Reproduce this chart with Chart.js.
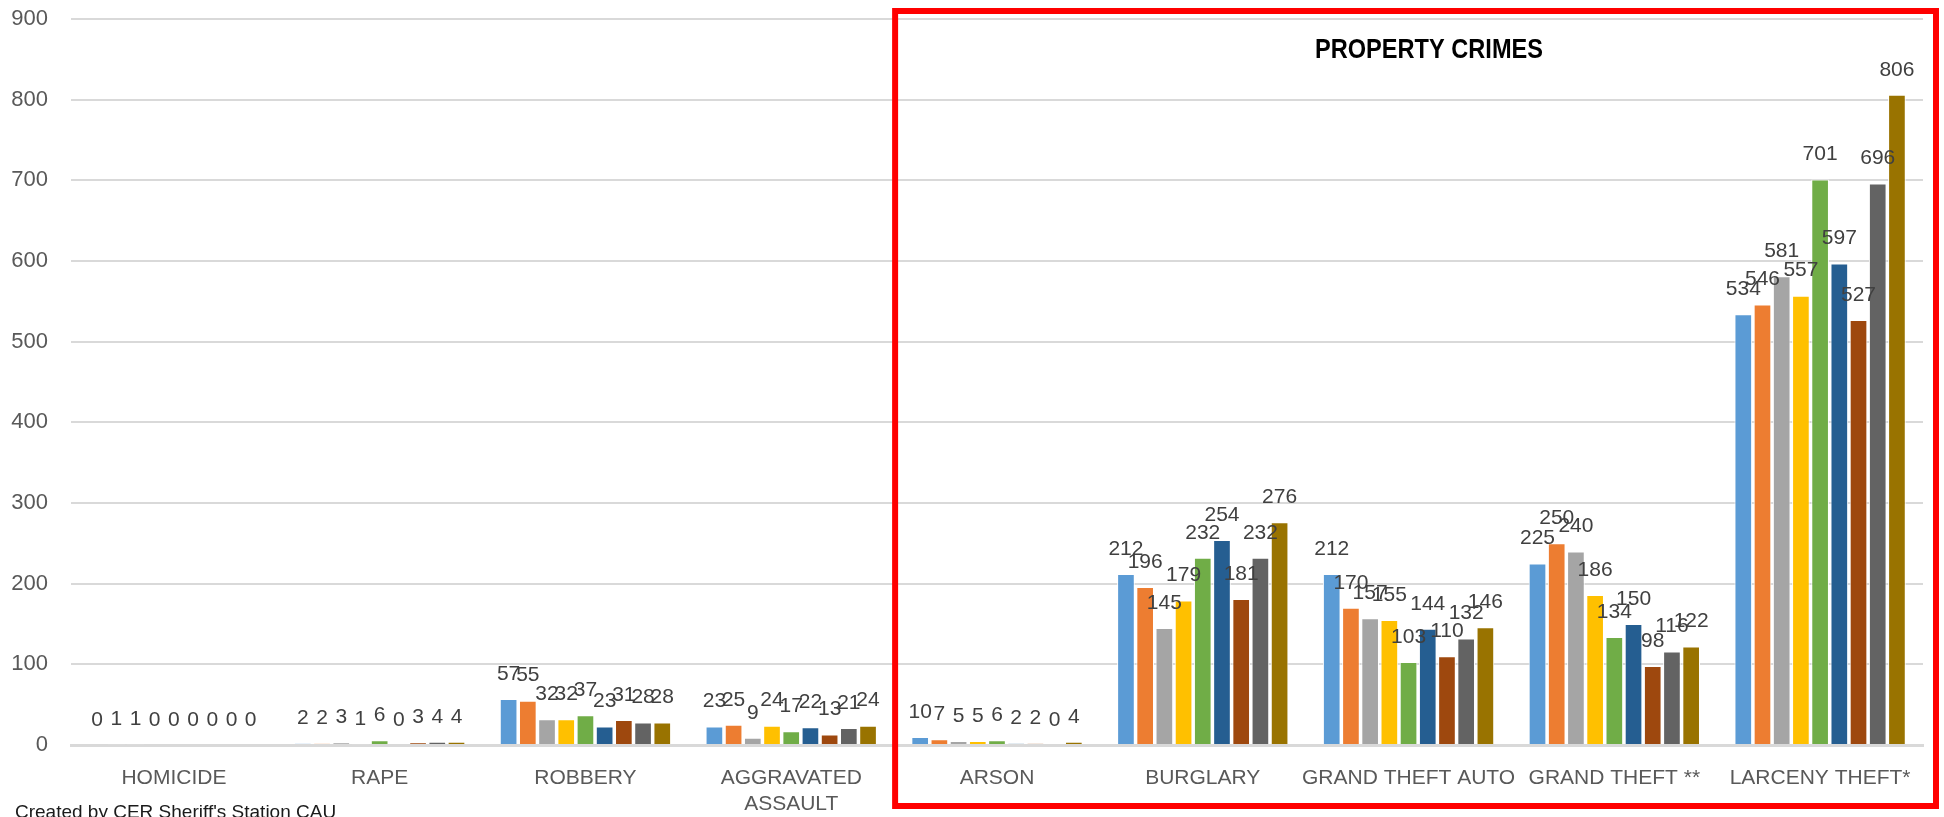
<!DOCTYPE html>
<html>
<head>
<meta charset="utf-8">
<script src="https://cdn.jsdelivr.net/npm/chart.js@4/dist/chart.umd.min.js"></script>
<style>
  body { margin: 0; background: #fff; }
  canvas { display: block; }
</style>
</head>
<body>
<canvas id="crimeChart" width="1944" height="817"></canvas>
<script>
// categories along the x axis
var categories = ['HOMICIDE', 'RAPE', 'ROBBERY', ['AGGRAVATED', 'ASSAULT'], 'ARSON',
  'BURGLARY', 'GRAND THEFT AUTO', 'GRAND THEFT **', 'LARCENY THEFT*']

// nine bars per category (left to right)
var homicide   = [0, 1, 1, 0, 0, 0, 0, 0, 0]
var rape       = [2, 2, 3, 1, 6, 0, 3, 4, 4]
var robbery    = [57, 55, 32, 32, 37, 23, 31, 28, 28]
var aggAssault = [23, 25, 9, 24, 17, 22, 13, 21, 24]
var arson      = [10, 7, 5, 5, 6, 2, 2, 0, 4]
var burglary   = [212, 196, 145, 179, 232, 254, 181, 232, 276]
var gta        = [212, 170, 157, 155, 103, 144, 110, 132, 146]
var grandTheft = [225, 250, 240, 186, 134, 150, 98, 116, 122]
var larceny    = [534, 546, 581, 557, 701, 597, 527, 696, 806]

var yTicks = [0, 100, 200, 300, 400, 500, 600, 700, 800, 900]

var seriesColors = ['#5B9BD5', '#ED7D31', '#A5A5A5', '#FFC000', '#70AD47',
  '#255E91', '#9E480E', '#636363', '#997300']

var rows = [homicide, rape, robbery, aggAssault, arson, burglary, gta, grandTheft, larceny]

var datasets = []
for (var i = 0; i < seriesColors.length; i++) {
  datasets.push({
    label: 'Series ' + (i + 1),
    data: rows.map(function (r) { return r[i] }),
    backgroundColor: seriesColors[i],
    borderColor: '#ffffff',
    borderWidth: 1,
    borderSkipped: 'start',
    categoryPercentage: 0.84,
    barPercentage: 0.92
  })
}

var FONT = '"Liberation Sans", Arial, sans-serif'

// value labels above every bar
var valueLabels = {
  id: 'valueLabels',
  afterDatasetsDraw: function (chart) {
    var ctx = chart.ctx
    ctx.save()
    ctx.font = '21px ' + FONT
    ctx.fillStyle = '#404040'
    ctx.textAlign = 'center'
    ctx.textBaseline = 'middle'
    chart.data.datasets.forEach(function (ds, di) {
      chart.getDatasetMeta(di).data.forEach(function (bar, j) {
        ctx.fillText(String(ds.data[j]), bar.x, bar.y - 25)
      })
    })
    ctx.restore()
  }
}

// red box round the property crimes, its heading and the footer note
var extras = {
  id: 'extras',
  afterDraw: function (chart) {
    var ctx = chart.ctx
    var xs = chart.scales.x
    var area = chart.chartArea
    var left = xs.getPixelForValue(3.5) - 2
    ctx.save()
    ctx.strokeStyle = '#ff0000'
    ctx.lineWidth = 6
    ctx.strokeRect(left + 3, 11, area.right + 10 - left, 795)

    // heading, squeezed to the narrow width of the original
    ctx.fillStyle = '#000000'
    ctx.font = 'bold 28px ' + FONT
    ctx.textAlign = 'center'
    ctx.textBaseline = 'middle'
    var title = 'PROPERTY CRIMES'
    var sx = 228 / ctx.measureText(title).width
    ctx.translate(1429, 50)
    ctx.scale(sx, 1)
    ctx.fillText(title, 0, 0)
    ctx.setTransform(1, 0, 0, 1, 0, 0)

    ctx.fillStyle = '#1a1a1a'
    ctx.font = '19px ' + FONT
    ctx.textAlign = 'left'
    ctx.textBaseline = 'alphabetic'
    ctx.fillText("Created by CER Sheriff's Station CAU", 15, 818)
    ctx.restore()
  }
}

var ctx = document.getElementById('crimeChart').getContext('2d')
var crimeChart = new Chart(ctx, {
  type: 'bar',
  data: { labels: categories, datasets: datasets },
  plugins: [valueLabels, extras],
  options: {
    responsive: false,
    animation: false,
    devicePixelRatio: 1,
    layout: { padding: { top: 19, right: 21, bottom: 0, left: 0 } },
    plugins: {
      legend: { display: false },
      tooltip: { enabled: false }
    },
    scales: {
      x: {
        grid: { display: false },
        border: { display: true, color: '#d9d9d9', width: 3 },
        ticks: {
          color: '#595959',
          font: { family: FONT, size: 21, lineHeight: 1.24 },
          padding: 12,
          maxRotation: 0,
          autoSkip: false
        },
        afterFit: function (scale) { scale.height = 72 }
      },
      y: {
        min: 0,
        max: 900,
        afterBuildTicks: function (scale) {
          scale.ticks = yTicks.map(function (v) { return { value: v } })
        },
        grid: { color: '#d9d9d9', lineWidth: 2, drawTicks: false },
        border: { display: false },
        ticks: {
          color: '#595959',
          font: { family: FONT, size: 22 },
          padding: 23
        },
        afterFit: function (scale) {
          scale.width = 71
          scale.paddingTop = 0
          scale.paddingBottom = 0
        }
      }
    }
  }
})
</script>
</body>
</html>
